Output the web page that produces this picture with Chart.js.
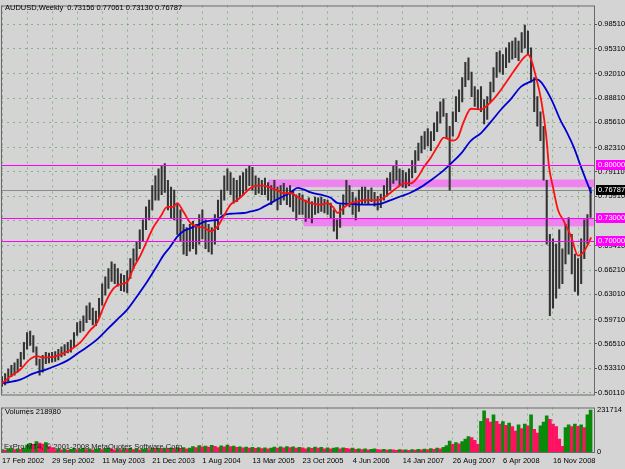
<!DOCTYPE html>
<html>
<head>
<meta charset="utf-8">
<script src="https://cdn.jsdelivr.net/npm/chart.js@4.4.0/dist/chart.umd.min.js"></script>
<style>
  html, body { margin: 0; padding: 0; background: #d4d4d4; }
  #wrap { position: relative; width: 625px; height: 469px; }
  #main { position: absolute; left: 0; top: 0; }
  #vol { position: absolute; left: 0; top: 400px; }
</style>
</head>
<body>
<div id="wrap">
  <canvas id="main" width="625" height="400"></canvas>
  <canvas id="vol" width="625" height="69"></canvas>
</div>
<script>
// AUDUSD weekly, one bar per two weeks, index 0 = 17 Feb 2002
const symbol = 'AUDUSD,Weekly'
const lastBar = [0.73156, 0.77061, 0.73130, 0.76787]
const lastVolume = 218980
const copyright = 'ExPro MT4, \u00a9 2001-2008 MetaQuotes Software Corp.'

const tickLabels = ['17 Feb 2002', '29 Sep 2002', '11 May 2003', '21 Dec 2003', '1 Aug 2004', '13 Mar 2005',
  '23 Oct 2005', '4 Jun 2006', '14 Jan 2007', '26 Aug 2007', '6 Apr 2008', '16 Nov 2008']
const priceTicks = [0.50110, 0.53310, 0.56510, 0.59710, 0.63010, 0.66210, 0.69410, 0.72710,
  0.75910, 0.79110, 0.82310, 0.85610, 0.88810, 0.92010, 0.95310, 0.98510]
const volTicks = [0, 231714]

const highs = [
  0.522, 0.526, 0.532, 0.537, 0.540, 0.545, 0.554, 0.567, 0.580, 0.582,
  0.576, 0.561, 0.545, 0.550, 0.554, 0.553, 0.554, 0.555, 0.558, 0.561,
  0.564, 0.567, 0.570, 0.580, 0.593, 0.595, 0.602, 0.615, 0.619, 0.612,
  0.608, 0.625, 0.644, 0.653, 0.664, 0.673, 0.670, 0.664, 0.657, 0.655,
  0.661, 0.677, 0.690, 0.699, 0.715, 0.728, 0.745, 0.754, 0.773, 0.786,
  0.795, 0.799, 0.802, 0.780, 0.771, 0.767, 0.748, 0.741, 0.722, 0.718,
  0.722, 0.726, 0.722, 0.735, 0.741, 0.728, 0.722, 0.718, 0.735, 0.754,
  0.767, 0.786, 0.795, 0.790, 0.783, 0.780, 0.786, 0.790, 0.795, 0.799,
  0.797, 0.786, 0.783, 0.780, 0.783, 0.777, 0.773, 0.780, 0.771, 0.773,
  0.776, 0.770, 0.773, 0.767, 0.761, 0.763, 0.761, 0.754, 0.757, 0.752,
  0.758, 0.757, 0.758, 0.755, 0.754, 0.750, 0.741, 0.728, 0.748, 0.761,
  0.780, 0.773, 0.764, 0.757, 0.767, 0.771, 0.771, 0.767, 0.770, 0.764,
  0.759, 0.762, 0.773, 0.783, 0.790, 0.799, 0.806, 0.795, 0.793, 0.790,
  0.795, 0.806, 0.819, 0.829, 0.838, 0.844, 0.848, 0.844, 0.855, 0.870,
  0.883, 0.887, 0.868, 0.851, 0.870, 0.890, 0.899, 0.915, 0.935, 0.941,
  0.922, 0.903, 0.899, 0.903, 0.886, 0.890, 0.909, 0.928, 0.948, 0.950,
  0.945, 0.954, 0.961, 0.963, 0.967, 0.963, 0.974, 0.984, 0.976, 0.954,
  0.915, 0.890, 0.870, 0.851, 0.780, 0.709, 0.703, 0.696, 0.715, 0.690,
  0.722, 0.731, 0.709, 0.683, 0.677, 0.703, 0.728, 0.735, 0.77061
]
const lows = [
  0.509, 0.511, 0.515, 0.522, 0.524, 0.528, 0.535, 0.545, 0.558, 0.563,
  0.554, 0.537, 0.524, 0.528, 0.539, 0.540, 0.541, 0.542, 0.544, 0.548,
  0.550, 0.553, 0.554, 0.561, 0.576, 0.580, 0.582, 0.593, 0.597, 0.590,
  0.589, 0.599, 0.616, 0.629, 0.638, 0.647, 0.644, 0.641, 0.635, 0.634,
  0.632, 0.651, 0.664, 0.674, 0.690, 0.700, 0.715, 0.728, 0.741, 0.754,
  0.754, 0.761, 0.764, 0.741, 0.731, 0.728, 0.709, 0.700, 0.683, 0.681,
  0.687, 0.690, 0.683, 0.696, 0.703, 0.690, 0.686, 0.683, 0.696, 0.715,
  0.735, 0.754, 0.767, 0.761, 0.750, 0.752, 0.757, 0.761, 0.767, 0.773,
  0.767, 0.761, 0.763, 0.761, 0.761, 0.754, 0.748, 0.754, 0.741, 0.748,
  0.754, 0.748, 0.745, 0.739, 0.728, 0.735, 0.735, 0.726, 0.731, 0.724,
  0.735, 0.737, 0.739, 0.737, 0.735, 0.731, 0.713, 0.703, 0.718, 0.735,
  0.748, 0.745, 0.735, 0.728, 0.739, 0.748, 0.750, 0.748, 0.752, 0.746,
  0.741, 0.744, 0.754, 0.759, 0.767, 0.776, 0.780, 0.773, 0.771, 0.770,
  0.773, 0.783, 0.790, 0.806, 0.816, 0.821, 0.825, 0.819, 0.832, 0.844,
  0.855, 0.864, 0.835, 0.767, 0.838, 0.857, 0.870, 0.883, 0.903, 0.912,
  0.890, 0.877, 0.874, 0.870, 0.854, 0.860, 0.883, 0.896, 0.915, 0.922,
  0.919, 0.928, 0.935, 0.939, 0.941, 0.937, 0.948, 0.954, 0.945, 0.909,
  0.870, 0.851, 0.832, 0.780, 0.696, 0.602, 0.612, 0.625, 0.638, 0.644,
  0.670, 0.683, 0.657, 0.634, 0.629, 0.644, 0.677, 0.696, 0.7313
]

// [bar index, value] read along the two moving averages
const fastMA = [
  [0, 0.513], [2.6, 0.522], [5.8, 0.531], [9, 0.545], [11.2, 0.549], [13.1, 0.547], [16.3, 0.548],
  [18.6, 0.551], [21.8, 0.557], [25, 0.567], [28.2, 0.583], [30.4, 0.593], [32.3, 0.612], [34.6, 0.632],
  [36.8, 0.642], [38.7, 0.644], [40.3, 0.648], [41.9, 0.664], [44.2, 0.681], [46.4, 0.701], [48.3, 0.718],
  [50.6, 0.732], [52.8, 0.745], [54.7, 0.745], [56, 0.750], [57.9, 0.739], [60.2, 0.724], [62.4, 0.719],
  [64.3, 0.718], [66.6, 0.713], [68.8, 0.719], [70.7, 0.732], [73, 0.748], [75.2, 0.754], [77.1, 0.761],
  [79.4, 0.770], [81.6, 0.773], [83.5, 0.773], [85.8, 0.770], [88, 0.767], [89.9, 0.763], [92.2, 0.763],
  [94.4, 0.758], [96.3, 0.754], [98.6, 0.750], [101.8, 0.748], [104, 0.750], [105.9, 0.744], [107.2, 0.737],
  [109.1, 0.744], [111.4, 0.750], [113.6, 0.752], [115.5, 0.754], [120, 0.754], [121.9, 0.757], [124.2, 0.764],
  [126.4, 0.771], [128.3, 0.776], [130.6, 0.776], [132.8, 0.784], [134.7, 0.797], [137, 0.810], [139.2, 0.825],
  [141.1, 0.836], [144, 0.832], [145.6, 0.836], [147.5, 0.857], [149.8, 0.874], [153, 0.873], [154.6, 0.877],
  [157.1, 0.887], [159.4, 0.899], [162.6, 0.918], [164.8, 0.931], [166.7, 0.941], [168, 0.945], [169, 0.939],
  [170.6, 0.915], [172.2, 0.886], [173.8, 0.840], [174.7, 0.799], [176, 0.771], [177.6, 0.741], [179.5, 0.726],
  [181.8, 0.706], [184, 0.681], [185.6, 0.685], [187.2, 0.696], [188.2, 0.705]
]
const slowMA = [
  [0, 0.513], [5.8, 0.518], [9.9, 0.526], [13.8, 0.531], [17.6, 0.537], [20.8, 0.543], [24, 0.552],
  [27.2, 0.561], [30.4, 0.571], [33.6, 0.584], [36.8, 0.597], [40, 0.610], [43.2, 0.628], [46.4, 0.647],
  [49.6, 0.668], [51.5, 0.681], [53.8, 0.693], [56, 0.706], [57.9, 0.713], [60.2, 0.717], [62.4, 0.721],
  [64.3, 0.725], [66.6, 0.727], [68.8, 0.728], [70.7, 0.734], [73, 0.736], [77.1, 0.737], [79.4, 0.739],
  [81.6, 0.741], [83.5, 0.745], [85.8, 0.750], [88, 0.755], [89.9, 0.759], [92.2, 0.764], [94.4, 0.770],
  [96.3, 0.768], [98.6, 0.764], [101.8, 0.761], [105, 0.757], [107.2, 0.750], [111.4, 0.749], [114.6, 0.748],
  [117.8, 0.748], [121, 0.749], [124.2, 0.754], [127.4, 0.759], [130.6, 0.764], [133.8, 0.771], [137, 0.780],
  [140.2, 0.790], [143.4, 0.802], [146.6, 0.815], [149.8, 0.832], [153, 0.842], [156.2, 0.857], [159.4, 0.873],
  [162.6, 0.887], [165.8, 0.903], [169, 0.910], [170.6, 0.913], [172.2, 0.909], [175.4, 0.887], [178.6, 0.857],
  [180.2, 0.845], [182.7, 0.823], [185, 0.797], [188.2, 0.763]
]

const volumes = [
  14000, 11000, 16000, 19000, 13000, 18000, 15000, 22000,
  38000, 48000, 42000, 58000, 50000, 44000, 52000, 30000, 24000,
  14000, 17000, 12000, 16000, 11000, 15000, 19000, 13000, 16000, 20000, 14000, 17000, 12000, 16000,
  18000, 13000, 17000, 21000, 15000, 12000, 17000, 14000, 19000, 15000, 20000, 14000, 17000, 12000, 16000,
  19000, 14000, 21000, 17000, 20000, 15000, 22000, 18000, 21000, 17000, 24000, 19000, 25000, 18000, 22000,
  30000, 24000, 35000, 28000, 33000, 27000, 37000, 31000, 25000, 34000, 28000, 38000, 30000, 33000, 26000,
  29000, 23000, 27000, 21000, 26000, 20000, 25000, 19000, 23000, 18000, 22000, 27000, 21000, 28000, 23000,
  30000, 24000, 29000, 21000, 26000,
  23000, 18000, 25000, 20000, 27000, 21000, 26000, 18000, 23000, 17000, 21000, 24000, 18000, 23000, 20000,
  17000, 21000, 15000, 18000, 14000, 17000, 12000, 15000, 18000, 14000,
  12000, 15000, 10000, 13000, 12000, 9000, 13000, 10000, 12000, 9000, 13000, 10000, 15000, 12000, 16000,
  13000, 19000, 15000, 21000, 18000,
  26000, 35000, 60000, 42000, 52000, 45000, 58000, 72000, 85000, 80000, 65000, 42000,
  170000, 228000, 185000, 165000, 205000, 170000, 155000, 168000, 148000, 160000, 140000, 115000,
  150000, 130000, 155000, 145000, 205000, 125000, 105000, 145000, 165000, 200000, 180000, 155000,
  140000, 72000, 32000, 135000, 150000, 140000, 155000, 142000, 150000, 135000, 205000, 231714
]

const levels = [0.80000, 0.73000, 0.70000]
// [first bar index, top price, bottom price]
const zones = [[85.1, 0.7810, 0.7710], [96.3, 0.7300, 0.7195]]

const gridIdx = []
for (let i = 0; i <= 188; i += 8) gridIdx.push(i)

const font = '7.5px "Liberation Sans"'
const gridColor = 'rgba(70,150,70,0.55)'

function xAxis (labels) {
  return {
    type: 'linear',
    min: -0.32,
    max: 189.1,
    offset: false,
    afterBuildTicks: s => { s.ticks = gridIdx.map(v => ({ value: v })) },
    afterFit: s => {
      s.height = labels ? 17 : 0
      s.paddingLeft = 0
      s.paddingRight = 0
    },
    grid: { color: gridColor, drawTicks: false, offset: false },
    border: { display: false, dash: [2, 4] },
    ticks: {
      display: labels,
      autoSkip: false,
      maxRotation: 0,
      align: 'start',
      padding: 4.5,
      color: '#000',
      font: { family: 'Liberation Sans', size: 7.5 },
      callback: v => (v % 16 === 0 ? tickLabels[v / 16] : '')
    }
  }
}

const mainDeco = {
  id: 'mainDeco',
  beforeDatasetsDraw (chart) {
    const { ctx, chartArea: a, scales: { x, y } } = chart
    ctx.save()
    ctx.beginPath()
    ctx.rect(a.left, a.top, a.right - a.left, a.bottom - a.top)
    ctx.clip()
    ctx.fillStyle = 'rgb(238,130,238)'
    for (const z of zones) {
      const x0 = x.getPixelForValue(z[0])
      const yt = y.getPixelForValue(z[1])
      const yb = y.getPixelForValue(z[2])
      ctx.fillRect(x0, yt, a.right - x0, yb - yt)
    }
    ctx.setLineDash([])
    ctx.lineWidth = 1
    ctx.strokeStyle = '#8a8a8a'
    const py = Math.round(y.getPixelForValue(lastBar[3])) + 0.5
    ctx.beginPath(); ctx.moveTo(a.left, py); ctx.lineTo(a.right, py); ctx.stroke()
    ctx.restore()
  },
  afterDatasetsDraw (chart) {
    const { ctx, chartArea: a, scales: { y } } = chart
    ctx.save()
    ctx.setLineDash([])
    ctx.lineWidth = 1
    ctx.strokeStyle = 'rgb(255,0,255)'
    for (const lv of levels) {
      const py = Math.round(y.getPixelForValue(lv)) + 0.5
      ctx.beginPath(); ctx.moveTo(a.left, py); ctx.lineTo(a.right, py); ctx.stroke()
    }
    ctx.restore()
  },
  afterDraw (chart) {
    const { ctx, chartArea: a, scales: { y } } = chart
    ctx.save()
    ctx.strokeStyle = '#6a6a6a'
    ctx.lineWidth = 1
    ctx.strokeRect(a.left + 0.5, a.top + 0.5, a.right - a.left, a.bottom - a.top)
    ctx.font = font
    ctx.textBaseline = 'middle'
    const badge = (v, bg, fg) => {
      const py = Math.round(y.getPixelForValue(v))
      ctx.fillStyle = bg
      ctx.fillRect(a.right + 2, py - 5, chart.width - a.right - 2, 10)
      ctx.fillStyle = fg
      ctx.fillText(v.toFixed(5), a.right + 4, py)
    }
    levels.forEach(v => badge(v, '#ff00ff', '#ffffff'))
    badge(lastBar[3], '#000000', '#ffffff')
    ctx.fillStyle = '#000'
    ctx.fillText(symbol + '  ' + lastBar.map(v => v.toFixed(5)).join(' '), 5, 8)
    ctx.restore()
  }
}

const volDeco = {
  id: 'volDeco',
  afterDraw (chart) {
    const { ctx, chartArea: a } = chart
    ctx.save()
    ctx.strokeStyle = '#6a6a6a'
    ctx.lineWidth = 1
    ctx.strokeRect(a.left + 0.5, a.top + 0.5, a.right - a.left, a.bottom - a.top)
    ctx.font = font
    ctx.textBaseline = 'middle'
    ctx.fillStyle = '#000'
    ctx.fillText('Volumes ' + lastVolume, 5, 12)
    ctx.fillStyle = '#1a1a1a'
    ctx.fillText(copyright, 4, 47)
    ctx.restore()
  }
}

new Chart(document.getElementById('main'), {
  type: 'bar',
  data: {
    datasets: [
      {
        type: 'line',
        data: fastMA.map(p => ({ x: p[0], y: p[1] })),
        borderColor: '#ff1010',
        borderWidth: 1.8,
        pointRadius: 0,
        cubicInterpolationMode: 'monotone',
        order: 1
      },
      {
        type: 'line',
        data: slowMA.map(p => ({ x: p[0], y: p[1] })),
        borderColor: '#0000d0',
        borderWidth: 1.8,
        pointRadius: 0,
        cubicInterpolationMode: 'monotone',
        order: 2
      },
      {
        type: 'bar',
        data: highs.map((h, i) => ({ x: i, y: [lows[i], h] })),
        backgroundColor: '#333333',
        barThickness: 1.4,
        order: 3
      }
    ]
  },
  options: {
    responsive: false,
    animation: false,
    layout: { padding: { left: 1, top: 2, right: 0, bottom: 2 } },
    plugins: { legend: { display: false }, tooltip: { enabled: false } },
    scales: {
      x: xAxis(false),
      y: {
        position: 'right',
        min: 0.49852,
        max: 1.00964,
        afterBuildTicks: s => { s.ticks = priceTicks.map(v => ({ value: v })) },
        afterFit: s => { s.width = 31 },
        grid: { color: gridColor, tickLength: 3, tickColor: '#555', tickBorderDash: [] },
        border: { display: false, dash: [2, 4] },
        ticks: {
          autoSkip: false,
          padding: 1,
          color: '#000',
          font: { family: 'Liberation Sans', size: 7.5 },
          callback: v => v.toFixed(5)
        }
      }
    }
  },
  plugins: [mainDeco]
})

new Chart(document.getElementById('vol'), {
  type: 'bar',
  data: {
    datasets: [{
      data: volumes.map((v, i) => ({ x: i, y: v })),
      backgroundColor: volumes.map((v, i) => (i === 0 || v > volumes[i - 1] ? '#0a8a0a' : '#ff1060')),
      barThickness: 3
    }]
  },
  options: {
    responsive: false,
    animation: false,
    layout: { padding: { left: 1, top: 1, right: 0, bottom: 0 } },
    plugins: { legend: { display: false }, tooltip: { enabled: false } },
    scales: {
      x: xAxis(true),
      y: {
        position: 'right',
        min: 0,
        max: 246000,
        afterBuildTicks: s => { s.ticks = volTicks.map(v => ({ value: v })) },
        afterFit: s => { s.width = 31 },
        grid: { display: false, drawTicks: false },
        border: { display: false },
        ticks: {
          padding: 3,
          color: '#000',
          font: { family: 'Liberation Sans', size: 7.5 },
          callback: v => String(v)
        }
      }
    }
  },
  plugins: [volDeco]
})
</script>
</body>
</html>
